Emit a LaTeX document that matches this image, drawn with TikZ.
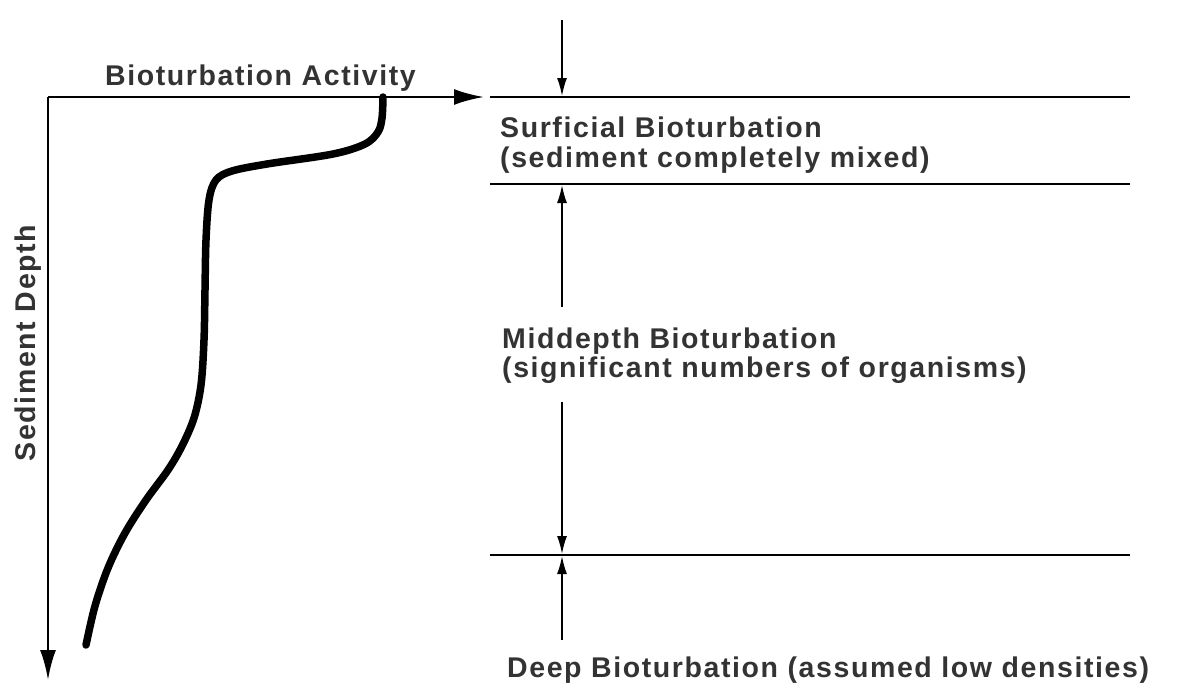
\documentclass[tikz,border=0pt]{standalone}
\usepackage{fontspec}
\setmainfont{Liberation Sans}[LetterSpace=5.6]
\usetikzlibrary{arrows.meta}

\definecolor{inkgray}{gray}{0.2}

\tikzset{
	axis/.style={line width=2.8pt,-{Latex[length=30pt,width=16pt]}},
	depthline/.style={line width=1.8pt},
	mark arrow/.style={line width=1.6pt,-{Latex[length=18pt,width=10pt]}},
	label text/.style={font=\fontsize{28.5}{30}\selectfont\bfseries,text=inkgray,inner sep=0pt,align=left},
}

\begin{document}
\begin{tikzpicture}[x=1pt,y=-1pt]
\useasboundingbox (0,0) rectangle (1180,686);
% axes
\coordinate (origin) at (48,97);
\coordinate (xend) at (484,97);
\coordinate (yend) at (48,680);
\draw[axis] (origin) -- (xend);
\draw[axis] (origin) -- (yend);
\node[label text,anchor=base west] (xlabel) at (105,85) {Bioturbation Activity};
\node[label text,anchor=base,rotate=90] (ylabel) at (35,343) {Sediment Depth};
% activity profile
\draw[line width=7.5pt,line cap=round,line join=round]
	plot[smooth,tension=0.55] coordinates {
		(383,97) (382,118) (378,132) (365,144) (333,154) (267,164) (232,171)
		(216,180) (209,200) (206,240) (205,290) (204,340) (201,385) (194,418)
		(182,446) (168,470) (146,500) (125,533) (108,568) (95,606) (86,645)};
% layer boundaries
\coordinate (top w) at (490,97);   \coordinate (top e) at (1130,97);
\coordinate (mid w) at (490,184);  \coordinate (mid e) at (1130,184);
\coordinate (deep w) at (490,555); \coordinate (deep e) at (1130,555);
\foreach \l in {top,mid,deep}{
	\draw[depthline] (\l\space w) -- (\l\space e);
}
% thickness markers
\coordinate (a1) at (562,20);  \coordinate (a2) at (562,96);
\coordinate (b1) at (562,307); \coordinate (b2) at (562,185);
\coordinate (c1) at (562,402); \coordinate (c2) at (562,554);
\coordinate (d1) at (562,640); \coordinate (d2) at (562,556);
\draw[mark arrow] (a1) -- (a2);
\draw[mark arrow] (b1) -- (b2);
\draw[mark arrow] (c1) -- (c2);
\draw[mark arrow] (d1) -- (d2);
% layer labels
\node[label text,anchor=base west] (surf) at (500,137) {Surficial Bioturbation};
\node[label text,anchor=base west] (surf2) at (500,167) {(sediment completely mixed)};
\node[label text,anchor=base west] (midd) at (502,348) {Middepth Bioturbation};
\node[label text,anchor=base west] (midd2) at (502,377) {(significant numbers of organisms)};
\node[label text,anchor=base west] (deep) at (507,677) {Deep Bioturbation (assumed low densities)};
\end{tikzpicture}
\end{document}
